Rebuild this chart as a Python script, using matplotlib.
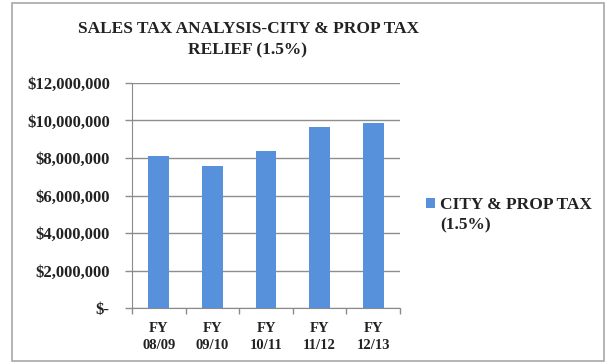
import numpy as np
import matplotlib.pyplot as plt
from matplotlib.patches import Rectangle
from matplotlib.ticker import FuncFormatter, FixedLocator

categories = ['FY\n08/09', 'FY\n09/10', 'FY\n10/11', 'FY\n11/12', 'FY\n12/13']
values = [8100000, 7580000, 8380000, 9650000, 9850000]
series_name = 'CITY & PROP TAX'
series_note = '(1.5%)'
title = 'SALES TAX ANALYSIS-CITY & PROP TAX\nRELIEF (1.5%)'

plt.rcParams['font.family'] = ['Liberation Serif', 'DejaVu Serif']
plt.rcParams['font.weight'] = 'bold'

fig = plt.figure(figsize=(6.07, 3.64), dpi=100)
fig.patch.set_facecolor('white')
fig.add_artist(Rectangle((12 / 607, 3 / 364), 592 / 607, 358 / 364,
                         transform=fig.transFigure, fill=False,
                         edgecolor='#a8a8a8', linewidth=1.2))

ax = fig.add_axes([132 / 607, 1 - 308 / 364, 268 / 607, 225 / 364])
x = np.arange(len(categories))
bars = ax.bar(x, values, width=0.39, color='#5790DB', label=series_name, zorder=3)

ax.set_xlim(-0.5, len(categories) - 0.5)
ax.set_ylim(0, 12000000)
ax.set_yticks(np.arange(0, 12000001, 2000000))
ax.yaxis.set_major_formatter(FuncFormatter(
    lambda v, p: '$-' if v == 0 else '${:,.0f}'.format(v)))
ax.grid(axis='y', color='#8e8e8e', linewidth=1.0, zorder=0)

ax.set_xticks(x)
ax.set_xticklabels(categories, fontsize=10.5, fontweight='bold', color='#222222',
                   linespacing=1.45)
ax.xaxis.set_minor_locator(FixedLocator(np.arange(-0.5, len(categories), 1)))
ax.tick_params(axis='x', which='major', length=0, pad=10)
ax.tick_params(axis='x', which='minor', length=4, color='#8a8a8a', width=1)
ax.tick_params(axis='y', length=5, color='#8e8e8e', width=1, pad=11,
               labelsize=12, labelcolor='#222222')

for side in ['top', 'right']:
    ax.spines[side].set_visible(False)
ax.spines['left'].set_color('#8a8a8a')
ax.spines['bottom'].set_color('#8a8a8a')

fig.text(248 / 607, 1 - 21 / 364, title, ha='center', va='top', fontsize=12.5,
         fontweight='bold', color='#222222', linespacing=1.45)

# legend: marker + first line, second line of the label sits underneath
leg = fig.legend(handles=[bars], labels=[series_name], loc='center left',
                 bbox_to_anchor=(0.676, 1 - 205 / 364), frameon=False,
                 prop={'size': 12.5, 'weight': 'bold'},
                 handlelength=0.5, handleheight=0.5, handletextpad=0.3)
for t in leg.get_texts():
    t.set_color('#222222')
fig.text(440 / 607, 1 - 225 / 364, series_note, ha='left', va='center',
         fontsize=12.5, fontweight='bold', color='#222222')

fig.savefig('out.png', dpi=100)
